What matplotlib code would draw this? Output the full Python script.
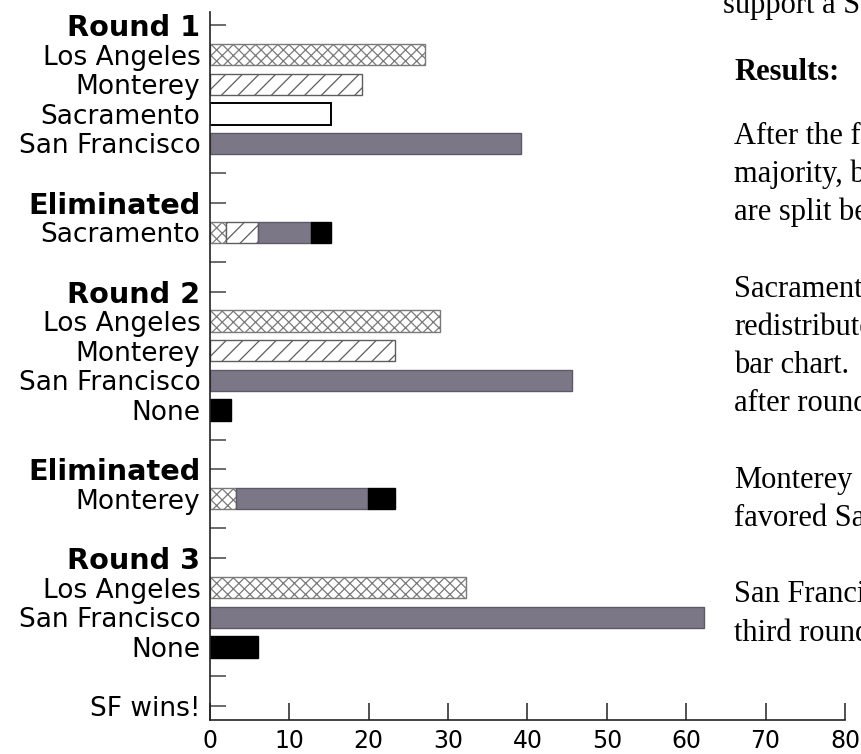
"""Instant-runoff vote bar chart (Round 1 -> Round 3) with the page text beside it."""

import matplotlib

matplotlib.use("Agg")
import matplotlib.pyplot as plt

# --- data (percent of votes) ---
ROUND1_NAMES = ["Los Angeles", "Monterey", "Sacramento", "San Francisco"]
ROUND1_VOTES = [27.1, 19.1, 15.2, 39.2]

# Sacramento eliminated: where its votes went
ELIM1_TO = ["Los Angeles", "Monterey", "San Francisco", "None"]
ELIM1_VOTES = [2.0, 4.0, 6.7, 2.6]

ROUND2_NAMES = ["Los Angeles", "Monterey", "San Francisco", "None"]
ROUND2_VOTES = [29.0, 23.3, 45.6, 2.7]

# Monterey eliminated: where its votes went
ELIM2_TO = ["Los Angeles", "San Francisco", "None"]
ELIM2_VOTES = [3.3, 16.6, 3.4]

ROUND3_NAMES = ["Los Angeles", "San Francisco", "None"]
ROUND3_VOTES = [32.3, 62.2, 6.0]

X_TICKS = [0, 10, 20, 30, 40, 50, 60, 70, 80]

PAGE_TOP = "support a San"
PAGE_HEADING = "Results:"
PAGE_LINES = [
    "After the first",
    "majority, but",
    "are split between",
    "",
    "Sacramento",
    "redistributed",
    "bar chart.",
    "after round",
    "",
    "Monterey",
    "favored San",
    "",
    "San Francisco",
    "third round",
]

STYLE = {
    "Los Angeles": dict(facecolor="white", edgecolor="#7a7a7a", hatch="xxx", linewidth=1.0),
    "Monterey": dict(facecolor="white", edgecolor="#5e5e5e", hatch="//", linewidth=1.0),
    "Sacramento": dict(facecolor="white", edgecolor="black", linewidth=1.4),
    "San Francisco": dict(facecolor="#7b7787", edgecolor="#5d5966", linewidth=1.0),
    "None": dict(facecolor="black", edgecolor="black", linewidth=1.0),
}

W, H, DPI = 862, 754, 100
plt.rcParams["font.family"] = ["DejaVu Sans"]
plt.rcParams["hatch.linewidth"] = 0.9


def build_rows():
    """Return (label, is_heading, [(candidate, value), ...]) for each row."""
    blank = ("", False, [])
    rows = [("Round 1", True, [])]
    rows += [(n, False, [(n, v)]) for n, v in zip(ROUND1_NAMES, ROUND1_VOTES)]
    rows += [blank, ("Eliminated", True, [])]
    rows += [("Sacramento", False, list(zip(ELIM1_TO, ELIM1_VOTES))), blank]
    rows += [("Round 2", True, [])]
    rows += [(n, False, [(n, v)]) for n, v in zip(ROUND2_NAMES, ROUND2_VOTES)]
    rows += [blank, ("Eliminated", True, [])]
    rows += [("Monterey", False, list(zip(ELIM2_TO, ELIM2_VOTES))), blank]
    rows += [("Round 3", True, [])]
    rows += [(n, False, [(n, v)]) for n, v in zip(ROUND3_NAMES, ROUND3_VOTES)]
    rows += [blank, ("SF wins!", False, [])]
    return rows


fig = plt.figure(figsize=(W / DPI, H / DPI), dpi=DPI)
ax = fig.add_axes([210 / W, (H - 720) / H, 635 / W, 708 / H])
ax.patch.set_visible(False)

rows = build_rows()
for i, (_, _, segments) in enumerate(rows):
    left = 0.0
    for cand, value in segments:
        ax.barh(i, value, left=left, height=0.72, **STYLE[cand])
        left += value

ax.set_xlim(0, 80)
ax.set_ylim(len(rows) - 0.53, -0.44)
ax.set_axisbelow(True)

ax.set_yticks(range(len(rows)))
ax.set_yticklabels([r[0] for r in rows])
for lbl, (_, heading, _) in zip(ax.get_yticklabels(), rows):
    if heading:
        lbl.set_fontweight("bold")
        lbl.set_fontsize(20.7)
    else:
        lbl.set_fontsize(19)

ax.set_xticks(X_TICKS)
ax.tick_params(axis="y", direction="in", length=11.5, width=1.1, color="#444444", pad=7)
ax.tick_params(axis="x", direction="in", length=12, width=1.1, color="#222222",
               pad=6.5, labelsize=17)

for side in ("top", "right"):
    ax.spines[side].set_visible(False)
for side in ("left", "bottom"):
    ax.spines[side].set_linewidth(1.2)
    ax.spines[side].set_color("#222222")

# page text to the right, clipped by the figure edge as in the screenshot
serif = ["Liberation Serif", "DejaVu Serif"]


def px(x, y_top):
    return x / W, 1 - y_top / H


fig.text(*px(723, 13), PAGE_TOP, family=serif, fontsize=22, va="baseline")
fig.text(*px(734, 80), PAGE_HEADING, family=serif, fontsize=22, fontweight="bold",
         va="baseline")
for k, line in enumerate(PAGE_LINES):
    if line:
        fig.text(*px(734, 144 + 38.2 * k), line, family=serif, fontsize=22, va="baseline")

fig.savefig("out.png", dpi=DPI)
